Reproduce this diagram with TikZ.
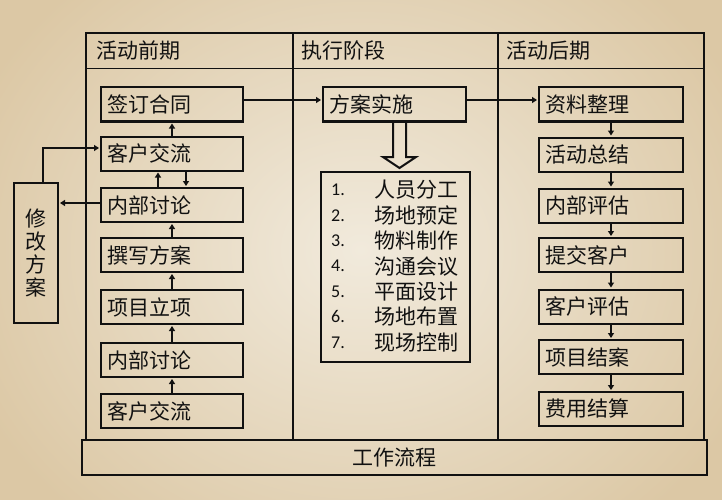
\documentclass[tikz,border=0pt]{standalone}
\usepackage{fontspec}
\newfontfamily\cjk{Noto Sans CJK SC}
\newfontfamily\numf{Carlito}
\usetikzlibrary{arrows.meta}
\definecolor{bgin}{HTML}{F1EADC}
\definecolor{bgout}{HTML}{DCC8A5}
\definecolor{ink}{HTML}{111111}
\begin{document}
\begin{tikzpicture}[x=1pt,y=-1pt,
  txt/.style={font=\cjk\fontsize{21}{23}\selectfont, text=ink},
  box/.style={txt, draw=ink, line width=2pt, minimum width=142pt, minimum height=34pt,
    inner xsep=6pt, inner ysep=0pt, text width=130pt, align=left},
  rbox/.style={box, minimum width=144pt, text width=132pt},
  frame/.style={draw=ink, line width=1.8pt},
  arr/.style={draw=ink, line width=1.6pt, shorten >=1pt, -{Triangle[length=5pt,width=6pt]}},
  hdr/.style={txt, anchor=west, inner sep=0pt},
  numst/.style={font=\numf\fontsize{18}{20}\selectfont, text=ink, anchor=west, inner sep=0pt},
  itemst/.style={txt, anchor=west, inner sep=0pt}]
\useasboundingbox (0,0) rectangle (722,500);
\fill[bgout] (0,0) rectangle (722,500);
\shade[inner color=bgin, outer color=bgout] (-60,-110) rectangle (782,610);

% frame
\draw[frame] (86,440) -- (86,33) -- (704,33) -- (704,440);
\draw[frame] (86,68.5) -- (704,68.5);
\draw[frame] (293,33) -- (293,440);
\draw[frame] (498,33) -- (498,440);
\node[txt, draw=ink, line width=2pt, minimum width=625pt, minimum height=35pt] (foot) at (394.5,457.5) {工作流程};

% headers
\node[hdr] (h1) at (96,51) {活动前期};
\node[hdr] (h2) at (301,51) {执行阶段};
\node[hdr] (h3) at (506,51) {活动后期};

% left column
\node[box] (l1) at (172,104.5) {签订合同};
\node[box] (l2) at (172,153.5) {客户交流};
\node[box] (l3) at (172,205) {内部讨论};
\node[box] (l4) at (172,255) {撰写方案};
\node[box] (l5) at (172,307) {项目立项};
\node[box] (l6) at (172,360) {内部讨论};
\node[box] (l7) at (172,411) {客户交流};

% revise box
\node[txt, draw=ink, line width=2pt, minimum width=44pt, minimum height=140pt, inner sep=0pt,
  align=center] (rev) at (36,253) {修\\改\\方\\案};

% middle
\node[box, minimum width=143pt, text width=131pt] (m1) at (394.5,104.5) {方案实施};
\draw[ink, line width=2pt] (393,122) -- (393,157) -- (383,157) -- (399.5,168) -- (416,157) -- (406,157) -- (406,122);
\node[draw=ink, line width=2pt, minimum width=149pt, minimum height=190pt] (lst) at (395.5,267) {};
\foreach \n/\t [count=\i] in {1/人员分工, 2/场地预定, 3/物料制作, 4/沟通会议, 5/平面设计, 6/场地布置, 7/现场控制} {
  \node[numst] (n\i) at (331,164.5+25.4*\i) {\n.};
  \node[itemst] (t\i) at (374,164.5+25.4*\i) {\t};
}

% right column
\node[rbox] (r1) at (611,104.5) {资料整理};
\node[rbox] (r2) at (611,154.5) {活动总结};
\node[rbox] (r3) at (611,205.5) {内部评估};
\node[rbox] (r4) at (611,255) {提交客户};
\node[rbox] (r5) at (611,306.5) {客户评估};
\node[rbox] (r6) at (611,357) {项目结案};
\node[rbox] (r7) at (611,409) {费用结算};

% connectors
\draw[arr] ([yshift=4.5pt]l1.east) -- ([yshift=4.5pt]m1.west);
\draw[arr] ([yshift=4.5pt]m1.east) -- ([yshift=4.5pt]r1.west);
\draw[arr] (l2.north) -- (l1.south);
\draw[arr] ([xshift=-14pt]l3.north) -- ([xshift=-14pt]l2.south);
\draw[arr] ([xshift=14pt]l2.south) -- ([xshift=14pt]l3.north);
\draw[arr] (l4.north) -- (l3.south);
\draw[arr] (l5.north) -- (l4.south);
\draw[arr] (l6.north) -- (l5.south);
\draw[arr] (l7.north) -- (l6.south);
\draw[arr] ([yshift=2pt]l3.west) -- ([yshift=2pt]l3.west -| rev.east);
\draw[arr] ([xshift=7pt]rev.north) |- ([yshift=5.5pt]l2.west);
\foreach \a/\b in {r1/r2, r2/r3, r3/r4, r4/r5, r5/r6, r6/r7} {
  \draw[arr] (\a.south) -- (\b.north);
}
\end{tikzpicture}
\end{document}
